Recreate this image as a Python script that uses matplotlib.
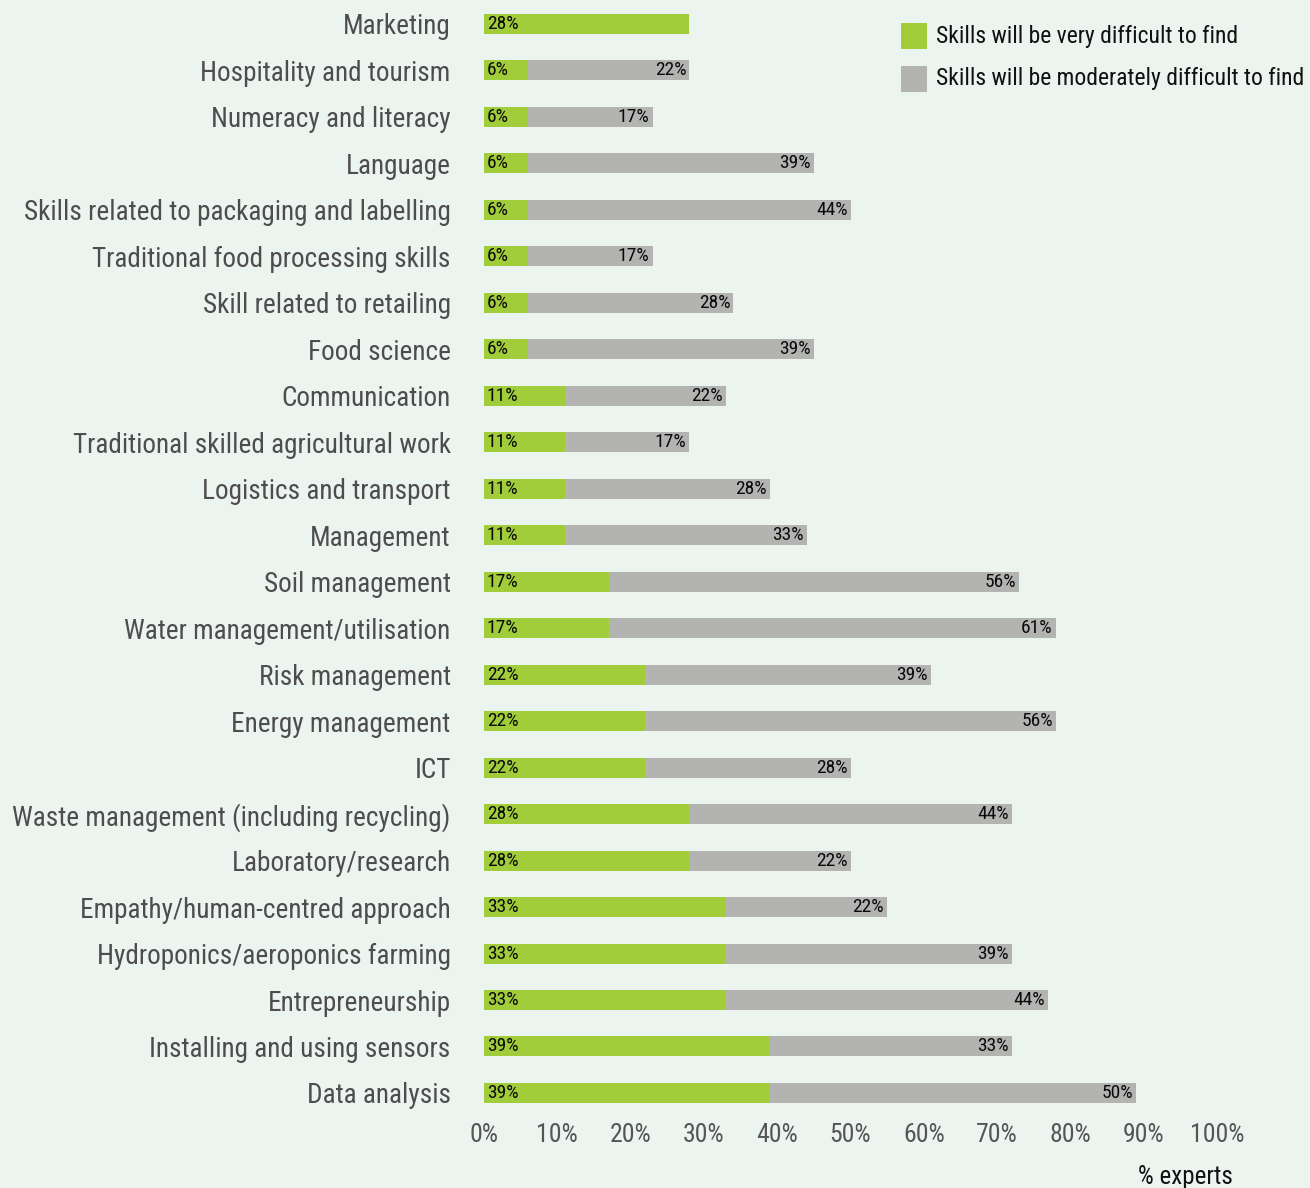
import matplotlib
matplotlib.use("Agg")
import matplotlib.pyplot as plt
from matplotlib.patches import Rectangle
from matplotlib import font_manager as fm

categories = [
    "Marketing", "Hospitality and tourism", "Numeracy and literacy", "Language",
    "Skills related to packaging and labelling", "Traditional food processing skills",
    "Skill related to retailing", "Food science", "Communication",
    "Traditional skilled agricultural work", "Logistics and transport", "Management",
    "Soil management", "Water management/utilisation", "Risk management",
    "Energy management", "ICT", "Waste management (including recycling)",
    "Laboratory/research", "Empathy/human-centred approach",
    "Hydroponics/aeroponics farming", "Entrepreneurship",
    "Installing and using sensors", "Data analysis",
]
very_difficult = [28, 6, 6, 6, 6, 6, 6, 6, 11, 11, 11, 11, 17, 17, 22, 22, 22, 28, 28, 33, 33, 33, 39, 39]
moderately_difficult = [0, 22, 17, 39, 44, 17, 28, 39, 22, 17, 28, 33, 56, 61, 39, 56, 28, 44, 22, 22, 39, 44, 33, 50]
xticks = [0, 10, 20, 30, 40, 50, 60, 70, 80, 90, 100]
xtick_labels = [f"{t}%" for t in xticks]
legend_labels = ["Skills will be very difficult to find", "Skills will be moderately difficult to find"]

GREEN = "#A2CD3A"
GREY = "#B3B4B2"
BG = "#ECF4EF"

available = {f.name for f in fm.fontManager.ttflist}
main_font = next((n for n in ["Roboto Condensed", "Archivo Narrow", "PT Sans Narrow",
                              "IBM Plex Sans Condensed", "Barlow Semi Condensed"] if n in available),
                 "DejaVu Sans")
FONT = [main_font, "DejaVu Sans"]
plt.rcParams["font.family"] = FONT

W, H = 1310, 1188
fig = plt.figure(figsize=(W / 100, H / 100), dpi=100, facecolor=BG)
ax = fig.add_axes([484 / W, (H - 1116.2) / H, 733 / W, 1115.5 / H])
ax.set_facecolor(BG)

y = list(range(len(categories)))
bar_h = 20 / 46.48
ax.barh(y, very_difficult, height=bar_h, color=GREEN, linewidth=0)
ax.barh(y, moderately_difficult, left=very_difficult, height=bar_h, color=GREY, linewidth=0)

for i, (g, m) in enumerate(zip(very_difficult, moderately_difficult)):
    ax.text(0.4, i, f"{g}%", ha="left", va="center", fontsize=14, color="#0A0A0A")
    if m > 0:
        ax.text(g + m - 0.4, i, f"{m}%", ha="right", va="center", fontsize=14, color="#0A0A0A")

ax.set_xlim(0, 100)
ax.set_ylim(len(categories) - 0.5, -0.5)
ax.set_yticks(y)
ax.set_yticklabels(categories, fontsize=19.6, color="#4D4D4D")
ax.set_xticks(xticks)
ax.set_xticklabels(xtick_labels, fontsize=18.5, color="#555555")
ax.tick_params(axis="y", length=0, pad=24)
ax.tick_params(axis="x", length=0, pad=5)
for s in ax.spines.values():
    s.set_visible(False)

fig.text(1185 / W, 1 - 1177 / H, "% experts", ha="center", va="center", fontsize=18, color="#111111")

for k, (col, lab) in enumerate(zip([GREEN, GREY], legend_labels)):
    yc = 36 + 43 * k
    fig.patches.append(Rectangle((901 / W, 1 - (yc + 13) / H), 26 / W, 26 / H,
                                 transform=fig.transFigure, color=col, linewidth=0))
    fig.text(936 / W, 1 - yc / H, lab, ha="left", va="center", fontsize=17, color="#111111")

fig.savefig("out.png", dpi=100, facecolor=BG)
